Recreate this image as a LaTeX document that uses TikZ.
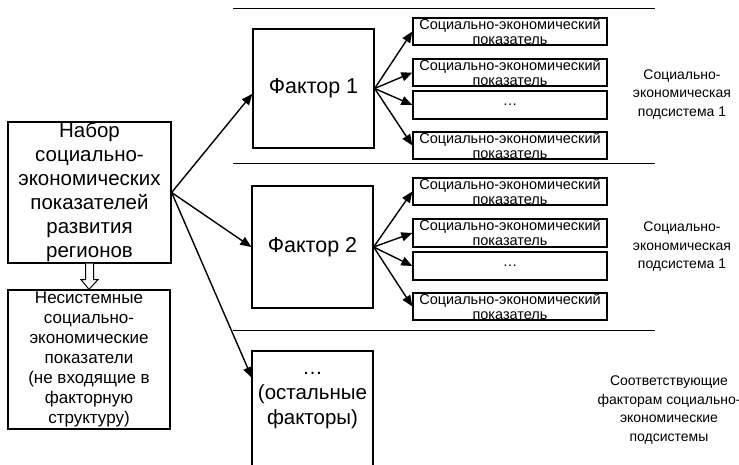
\documentclass[tikz,border=0pt]{standalone}
\usepackage{fontspec}
\setmainfont{Liberation Sans}
\usetikzlibrary{arrows.meta,calc}
\begin{document}
\begin{tikzpicture}[x=1pt,y=-1pt,
  box/.style={draw, line width=1.3pt, inner sep=0pt, align=center},
  indbox/.style={draw, line width=1.3pt, inner sep=0pt, minimum width=194pt, minimum height=27pt},
  indtxt/.style={inner sep=0pt, align=center, font=\fontsize{14.5}{15}\selectfont},
  conn/.style={line width=1.4pt, -{Triangle[length=11pt,width=9pt]}},
  sep/.style={line width=0.9pt},
  lbl/.style={align=center, inner sep=0pt, font=\fontsize{14}{18.5}\selectfont}]
\useasboundingbox (0,0) rectangle (739,465);
\clip (0,0) rectangle (739,465);

% separators
\draw[sep] (233,8) -- (655,8);
\draw[sep] (233,163) -- (655,163);
\draw[sep] (233,330) -- (655,330);

% left boxes
\node[box, minimum width=163pt, minimum height=141pt, font=\fontsize{20.5}{24}\selectfont] (nabor) at (89.5,192.5)
  {Набор\\социально-\\экономических\\показателей\\развития\\регионов};
\node[box, minimum width=162pt, minimum height=139pt, font=\fontsize{17}{20}\selectfont] (nesys) at (89,359.5)
  {Несистемные\\социально-\\экономические\\показатели\\(не входящие в\\факторную\\структуру)};

% hollow arrow
\draw[line width=1pt, fill=white]
  ($(nabor.south)+(-4,0)$) -- ($(nabor.south)+(-4,16)$) -- ($(nabor.south)+(-8.5,16)$)
  -- (nesys.north) -- ($(nabor.south)+(8.5,16)$) -- ($(nabor.south)+(4,16)$)
  -- ($(nabor.south)+(4,0)$);

% factor boxes
\node[box, minimum width=121pt, minimum height=119pt, font=\fontsize{21.5}{24}\selectfont] (f1) at (313.5,88.5) {Фактор 1};
\node[box, minimum width=121pt, minimum height=122pt, font=\fontsize{21.5}{24}\selectfont] (f2) at (312.5,247) {Фактор 2};
\draw[line width=1.3pt] (252,475) -- (252,351) -- (373,351) -- (373,475);
\node[inner sep=0pt, align=center, font=\fontsize{20.5}{25}\selectfont] (f3) at (312.5,401) {\dots\\(остальные\\факторы)};
\coordinate (f3in) at (252,378);

% indicator boxes, subsystem 1
\node[indbox] (b1) at (510,31.5) {};
\node[indbox] (b2) at (510,72.5) {};
\node[indbox, minimum height=28pt] (b3) at (510,105) {};
\node[indbox] (b4) at (510,145.5) {};
% subsystem 2
\node[indbox] (b5) at (510,191.5) {};
\node[indbox, minimum height=28pt] (b6) at (510,233) {};
\node[indbox, minimum height=28pt] (b7) at (510,266) {};
\node[indbox] (b8) at (510,306.5) {};

\foreach \b in {b1,b2,b4,b5,b6,b8}{
  \node[indtxt] (t\b) at (\b.center) {Социально-экономический\\показатель};
}
\node[indtxt] (tb3) at (b3.center) {\dots};
\node[indtxt] (tb7) at (b7.center) {\dots};

% connectors
\draw[conn] (nabor.east) -- (f1.185);
\draw[conn] (nabor.east) -- (f2.west);
\draw[conn] (nabor.east) -- (f3in);
\foreach \b in {b1,b2,b3,b4}{ \draw[conn] (f1.east) -- (\b.west); }
\foreach \b in {b5,b6,b7,b8}{ \draw[conn] (f2.east) -- (\b.west); }

% right labels
\node[lbl] (s1) at (682,94.5) {Социально-\\экономическая\\подсистема 1};
\node[lbl] (s2) at (682,247) {Социально-\\экономическая\\подсистема 1};
\node[lbl] (s3) at (669,410) {Соответствующие\\факторам социально-\\экономические\\подсистемы};
\end{tikzpicture}
\end{document}
